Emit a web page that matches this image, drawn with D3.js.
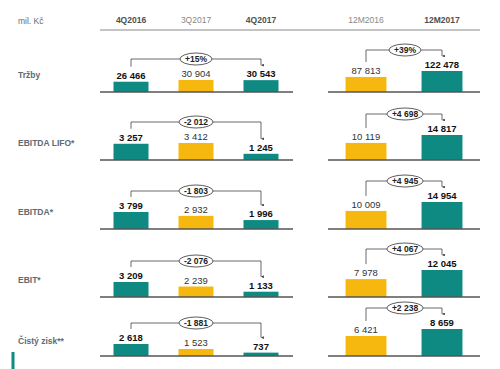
<!DOCTYPE html>
<html>
<head>
<meta charset="utf-8">
<script src="https://cdn.jsdelivr.net/npm/d3@7"></script>
<style>
  body { margin: 0; background: #fff; }
  svg { display: block; font-family: "Liberation Sans", Arial, sans-serif; }
</style>
</head>
<body>
<svg id="chart" width="500" height="369"></svg>
<script>
// data (mil. Kč)
const rows = ["Tržby", "EBITDA LIFO*", "EBITDA*", "EBIT*", "Čistý zisk**"];
const quarterCols = ["4Q2016", "3Q2017", "4Q2017"];
const yearCols = ["12M2016", "12M2017"];

const q4_2016 = [26466, 3257, 3799, 3209, 2618];
const q3_2017 = [30904, 3412, 2932, 2239, 1523];
const q4_2017 = [30543, 1245, 1996, 1133, 737];
const m12_2016 = [87813, 10119, 10009, 7978, 6421];
const m12_2017 = [122478, 14817, 14954, 12045, 8659];

const quarterChange = ["+15%", "-2 012", "-1 803", "-2 076", "-1 881"];
const yearChange = ["+39%", "+4 698", "+4 945", "+4 067", "+2 238"];

// layout
const rowBase = [92, 160, 229, 297, 356];
const leftMaxH = [12, 17, 17, 15, 12];
const rightMaxH = [21, 25, 27, 27, 27];

const teal = "#0f8a82";
const yellow = "#f6b70e";
const fmt = v => d3.format(",")(v).replace(/,/g, " ");

const svg = d3.select("#chart");

const xq = d3.scaleBand().domain(quarterCols).range([98.5, 293.5])
  .paddingInner(0.4615).paddingOuter(0.2308);
const xy = d3.scaleBand().domain(yearCols).range([328, 480])
  .paddingInner(0.4615).paddingOuter(0.2308);

// header
svg.append("text").attr("x", 18).attr("y", 24)
  .attr("font-size", 8.5).attr("fill", "#6b6b6b").text("mil. Kč");

const headBold = { "4Q2016": true, "3Q2017": false, "4Q2017": true, "12M2016": false, "12M2017": true };
quarterCols.forEach(c => {
  svg.append("text").attr("x", xq(c) + xq.bandwidth() / 2).attr("y", 23)
    .attr("text-anchor", "middle").attr("font-size", 8.5)
    .attr("font-weight", headBold[c] ? "bold" : "normal")
    .attr("fill", headBold[c] ? "#505050" : "#888").text(c);
});
yearCols.forEach(c => {
  svg.append("text").attr("x", xy(c) + xy.bandwidth() / 2).attr("y", 23)
    .attr("text-anchor", "middle").attr("font-size", 8.5)
    .attr("font-weight", headBold[c] ? "bold" : "normal")
    .attr("fill", headBold[c] ? "#505050" : "#888").text(c);
});
svg.append("line").attr("x1", 100).attr("x2", 480).attr("y1", 30).attr("y2", 30)
  .attr("stroke", "#8a8a8a").attr("stroke-width", 1);

// arrowhead
svg.append("defs").append("marker")
  .attr("id", "arr").attr("viewBox", "0 0 6 6").attr("refX", 3).attr("refY", 6)
  .attr("markerWidth", 3.5).attr("markerHeight", 3.5).attr("orient", "auto-start-reverse")
  .append("path").attr("d", "M0,0 L6,0 L3,6 Z").attr("fill", "#333");

function drawPanel(g, x, cols, values, bold, colors, maxH, change, base, x0, x1) {
  const y = d3.scaleLinear().domain([0, d3.max(values)]).range([0, maxH]);

  g.selectAll("rect").data(values).join("rect")
    .attr("x", (d, i) => x(cols[i]))
    .attr("width", x.bandwidth())
    .attr("y", d => base - y(d))
    .attr("height", d => y(d))
    .attr("fill", (d, i) => colors[i]);

  g.selectAll("text.val").data(values).join("text")
    .attr("class", "val")
    .attr("x", (d, i) => x(cols[i]) + x.bandwidth() / 2)
    .attr("y", d => base - y(d) - 3)
    .attr("text-anchor", "middle")
    .attr("font-size", 9.5)
    .attr("font-weight", (d, i) => bold[i] ? "bold" : "normal")
    .attr("fill", (d, i) => bold[i] ? "#111" : "#333")
    .text(fmt);

  g.append("line").attr("x1", x0).attr("x2", x1).attr("y1", base).attr("y2", base)
    .attr("stroke", "#555").attr("stroke-width", 1.3);

  // change bracket
  const first = cols[0], last = cols[cols.length - 1];
  const xa = x(first) + x.bandwidth() / 2;
  const xb = x(last) + x.bandwidth() / 2;
  const by = base - maxH - 21;
  const ya = base - y(values[0]) - 3 - 12;
  const yb = base - y(values[values.length - 1]) - 3 - 12;
  g.append("path")
    .attr("d", `M${xa},${ya} V${by} H${xb} V${yb}`)
    .attr("fill", "none").attr("stroke", "#444").attr("stroke-width", 0.8)
    .attr("marker-end", "url(#arr)");

  const cx = (xa + xb) / 2 + (cols.length === 3 ? 0 : 1);
  const lbl = g.append("text").attr("x", cx).attr("y", by + 3)
    .attr("text-anchor", "middle").attr("font-size", 8.5).attr("font-weight", "bold")
    .attr("fill", "#222").text(change);
  const w = lbl.node().getComputedTextLength();
  g.insert("ellipse", "text:last-child")
    .attr("cx", cx).attr("cy", by).attr("rx", w / 2 + 5).attr("ry", 6)
    .attr("fill", "#fff").attr("stroke", "#333").attr("stroke-width", 0.8);
  lbl.raise();
}

rows.forEach((name, i) => {
  const base = rowBase[i];
  const g = svg.append("g");
  g.append("text").attr("x", 18).attr("y", base - 14 + (i === 4 ? 2 : 0))
    .attr("font-size", 8.5).attr("font-weight", "bold").attr("fill", "#5d6b73")
    .text(name);

  drawPanel(g.append("g"), xq, quarterCols,
    [q4_2016[i], q3_2017[i], q4_2017[i]], [true, false, true],
    [teal, yellow, teal], leftMaxH[i], quarterChange[i], base, 100, 293);
  drawPanel(g.append("g"), xy, yearCols,
    [m12_2016[i], m12_2017[i]], [false, true],
    [yellow, teal], rightMaxH[i], yearChange[i], base, 328, 480);
});

// logo fragment bottom-left
svg.append("rect").attr("x", 11.5).attr("y", 352).attr("width", 3).attr("height", 17).attr("fill", teal);
</script>
</body>
</html>
